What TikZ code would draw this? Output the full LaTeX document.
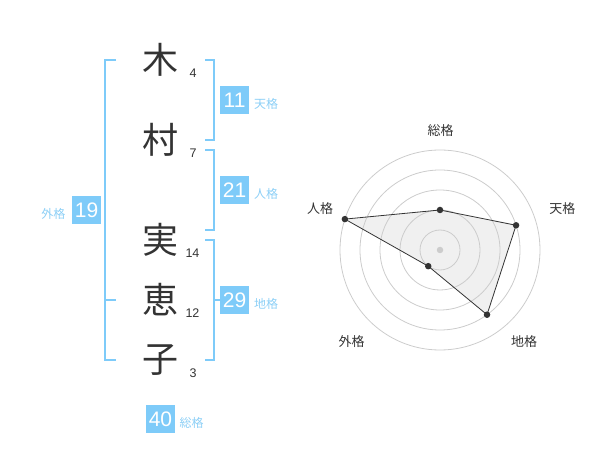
\documentclass[tikz,border=0pt]{standalone}
\usepackage{fontspec}
\setmainfont{Liberation Sans}
\newfontfamily\jp{Noto Sans CJK JP}
\definecolor{bl}{RGB}{126,203,249}
\definecolor{bll}{RGB}{140,207,246}
\definecolor{dk}{RGB}{51,51,51}
\definecolor{rg}{RGB}{204,204,204}
\definecolor{pf}{RGB}{240,240,240}
\tikzset{
 kanji/.style={font=\jp\fontsize{36}{36}\selectfont, text=dk, inner sep=0pt},
 strk/.style={font=\fontsize{12.5}{12.5}\selectfont, text=dk, inner sep=0pt},
 numbox/.style={fill=bl, text=white, minimum width=29pt, minimum height=28pt, inner sep=0pt, font=\fontsize{21}{21}\selectfont},
 lbl/.style={font=\jp\fontsize{12}{12}\selectfont, text=bll, inner sep=0pt},
 brk/.style={draw=bl, line width=2pt},
 ring/.style={draw=rg, line width=0.8pt},
 rlbl/.style={font=\jp\fontsize{13}{13}\selectfont, text=dk, inner sep=0pt},
 rdot/.style={circle, fill=dk, inner sep=0pt, minimum size=6.5pt},
 poly/.style={draw=dk, line width=0.8pt},
}
\begin{document}
\begin{tikzpicture}[x=1pt,y=-1pt]
\useasboundingbox (0,0) rectangle (600,470);
% name characters
\node[kanji] (k1) at (160,60) {木};
\node[kanji] (k2) at (160,140) {村};
\node[kanji] (k3) at (160,240) {実};
\node[kanji] (k4) at (160,300) {恵};
\node[kanji] (k5) at (160,360) {子};
\node[strk] (s1) at (193,73) {4};
\node[strk] (s2) at (193,153) {7};
\node[strk] (s3) at (192.5,253) {14};
\node[strk] (s4) at (192.5,313) {12};
\node[strk] (s5) at (193,373) {3};
% brackets
\draw[brk] (116,60) -- (105,60) -- (105,360) -- (116,360);
\draw[brk] (105,300) -- (116,300);
\draw[brk] (205,60) -- (214,60) -- (214,140) -- (205,140);
\draw[brk] (205,150) -- (214,150) -- (214,230) -- (205,230);
\draw[brk] (205,240) -- (214,240) -- (214,360) -- (205,360);
\draw[brk] (214,300) -- (220,300);
% boxes
\node[numbox] (b1) at (234.6,100) {11};
\node[lbl] (l1) at (266,104) {天格};
\node[numbox] (b2) at (234.6,190.5) {21};
\node[lbl] (l2) at (266,194) {人格};
\node[numbox] (b3) at (234.6,300) {29};
\node[lbl] (l3) at (266,304) {地格};
\node[numbox] (b4) at (86.6,210) {19};
\node[lbl] (l4) at (53.3,214) {外格};
\node[numbox] (b5) at (160.5,419) {40};
\node[lbl] (l5) at (191.7,423) {総格};
% radar
\coordinate (rc) at (440,250);
\coordinate (cS) at (440,210);
\coordinate (cT) at (516.08,225.28);
\coordinate (cC) at (487.02,314.72);
\coordinate (cG) at (428.24,266.18);
\coordinate (cJ) at (344.89,219.10);
\fill[pf] (cS) -- (cT) -- (cC) -- (cG) -- (cJ) -- cycle;
\foreach \r in {20,40,60,80,100} { \draw[ring] (rc) circle[radius=\r pt]; }
\draw[poly] (cS) -- (cT) -- (cC) -- (cG) -- (cJ) -- cycle;
\node[circle, fill=rg, inner sep=0pt, minimum size=6.5pt] (cen) at (rc) {};
\node[rdot] (pS) at (cS) {};
\node[rdot] (pT) at (cT) {};
\node[rdot] (pC) at (cC) {};
\node[rdot] (pG) at (cG) {};
\node[rdot] (pJ) at (cJ) {};
\node[rlbl] (rS) at (440.7,130.7) {総格};
\node[rlbl] (rT) at (562.3,208.3) {天格};
\node[rlbl] (rC) at (524,341.7) {地格};
\node[rlbl] (rG) at (351.7,341.7) {外格};
\node[rlbl] (rJ) at (320,208.3) {人格};
\end{tikzpicture}
\end{document}
